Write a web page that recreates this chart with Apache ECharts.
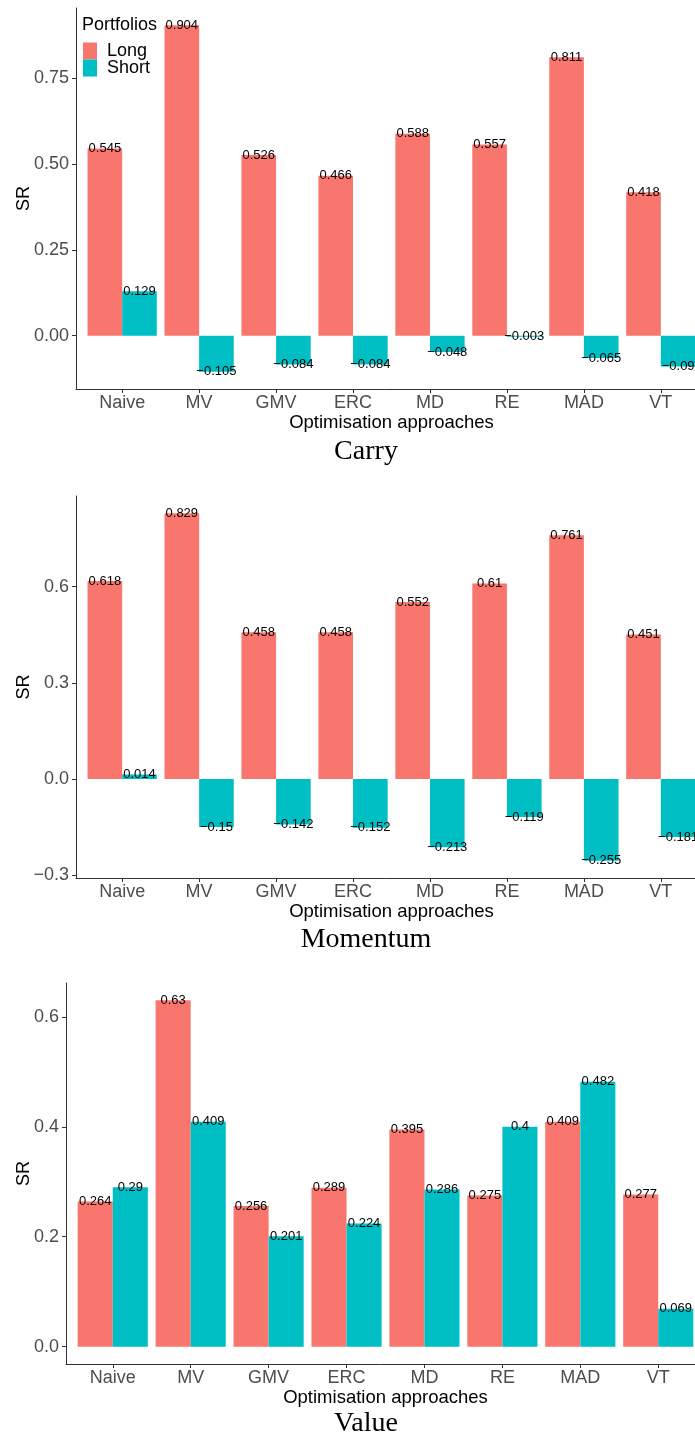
<!DOCTYPE html>
<html>
<head>
<meta charset="utf-8">
<script src="https://cdn.jsdelivr.net/npm/echarts@6/dist/echarts.min.js"></script>
<style>
html,body{margin:0;padding:0;background:#fff;overflow:hidden;}
#c{width:695px;height:1439px;}
</style>
</head>
<body>
<div id="c"></div>
<script>
const categories = ['Naive','MV','GMV','ERC','MD','RE','MAD','VT'];
const seriesNames = ['Long','Short'];
const panelTitles = ['Carry','Momentum','Value'];

const carryLong  = [0.545, 0.904, 0.526, 0.466, 0.588, 0.557, 0.811, 0.418];
const carryShort = [0.129, -0.105, -0.084, -0.084, -0.048, -0.003, -0.065, -0.09];
const momLong    = [0.618, 0.829, 0.458, 0.458, 0.552, 0.61, 0.761, 0.451];
const momShort   = [0.014, -0.15, -0.142, -0.152, -0.213, -0.119, -0.255, -0.181];
const valLong    = [0.264, 0.63, 0.256, 0.289, 0.395, 0.275, 0.409, 0.277];
const valShort   = [0.29, 0.409, 0.201, 0.224, 0.286, 0.4, 0.482, 0.069];

const carryTicks = [0, 0.25, 0.5, 0.75];
const momTicks   = [-0.3, 0, 0.3, 0.6];
const valTicks   = [0, 0.2, 0.4, 0.6];
const tickDecimals = [2, 1, 1];

const SANS = "'Liberation Sans', Arial, sans-serif";
const SERIF = "'Liberation Serif', 'Times New Roman', serif";
const colors = ['#F8766D', '#00BFC4'];

const panels = [
  {long: carryLong, short: carryShort, ticks: carryTicks, grid: {left: 76, top: 8, width: 631, height: 381}, titleY: 452, srGap: 43},
  {long: momLong, short: momShort, ticks: momTicks, grid: {left: 76, top: 496, width: 631, height: 382}, titleY: 940, srGap: 43},
  {long: valLong, short: valShort, ticks: valTicks, grid: {left: 66, top: 983, width: 639, height: 381}, titleY: 1424, srGap: 33}
];

function fmtSigned(v, d) {
  const s = d == null ? String(Math.abs(v)) : Math.abs(v).toFixed(d);
  return (v < 0 ? '\u2212' : '') + s;
}

const grids = [], xAxes = [], yAxes = [], series = [], graphics = [];
const idx = categories.map((c, i) => i);

panels.forEach((p, k) => {
  grids.push(Object.assign({outerBoundsMode: 'none', containLabel: false}, p.grid));
  const all = p.long.concat(p.short, [0]);
  const lo = Math.min.apply(null, all), hi = Math.max.apply(null, all);
  const pad = (hi - lo) * 0.05;
  xAxes.push({
    gridIndex: k, type: 'value', min: -0.6, max: 7.6,
    splitLine: {show: false},
    axisLine: {onZero: false, lineStyle: {color: '#333', width: 1}},
    axisTick: {customValues: idx, length: 4, lineStyle: {color: '#333'}},
    axisLabel: {customValues: idx, margin: 5, fontSize: 18, color: '#4D4D4D', fontFamily: SANS,
      formatter: v => categories[Math.round(v)]},
    name: 'Optimisation approaches', nameLocation: 'middle', nameGap: 24, nameMoveOverlap: false,
    nameTextStyle: {fontSize: 18.5, color: '#000', fontFamily: SANS}
  });
  yAxes.push({
    gridIndex: k, type: 'value', min: lo - pad, max: hi + pad,
    splitLine: {show: false},
    axisLine: {show: true, onZero: false, lineStyle: {color: '#333', width: 1}},
    axisTick: {show: true, customValues: p.ticks, length: 4, lineStyle: {color: '#333'}},
    axisLabel: {customValues: p.ticks, margin: 7, fontSize: 18, color: '#4D4D4D', fontFamily: SANS,
      formatter: v => fmtSigned(v, tickDecimals[k])},
    name: 'SR', nameLocation: 'middle', nameRotate: 90, nameGap: p.srGap, nameMoveOverlap: false,
    nameTextStyle: {fontSize: 18, color: '#000', fontFamily: SANS}
  });
  [p.long, p.short].forEach((arr, s) => {
    series.push({
      type: 'bar', name: seriesNames[s], xAxisIndex: k, yAxisIndex: k,
      barWidth: '45%', barGap: '0%',
      itemStyle: {color: colors[s]},
      label: {show: true, distance: -6.5, fontSize: 13, color: '#000', fontFamily: SANS,
        formatter: prm => fmtSigned(prm.value[1])},
      data: arr.map((v, i) => ({value: [i, v], label: {position: v >= 0 ? 'top' : 'bottom'}}))
    });
  });
  graphics.push({type: 'text', x: 366, y: p.titleY,
    style: {text: panelTitles[k], fontSize: 28, fontFamily: SERIF, fill: '#000', align: 'center', verticalAlign: 'middle'}});
});

graphics.push({type: 'text', x: 82, y: 25,
  style: {text: 'Portfolios', fontSize: 18, fontFamily: SANS, fill: '#000', align: 'left', verticalAlign: 'middle'}});

const chart = echarts.init(document.getElementById('c'), null, {renderer: 'canvas'});
chart.setOption({
  animation: false,
  backgroundColor: '#fff',
  grid: grids,
  xAxis: xAxes,
  yAxis: yAxes,
  legend: {
    data: seriesNames, orient: 'vertical', left: 83, top: 42, padding: 0,
    itemWidth: 14, itemHeight: 17, itemGap: -1, icon: 'rect',
    textStyle: {fontSize: 18, color: '#000', fontFamily: SANS, padding: [0, 0, 0, 5]}
  },
  graphic: graphics,
  series: series
});
</script>
</body>
</html>
